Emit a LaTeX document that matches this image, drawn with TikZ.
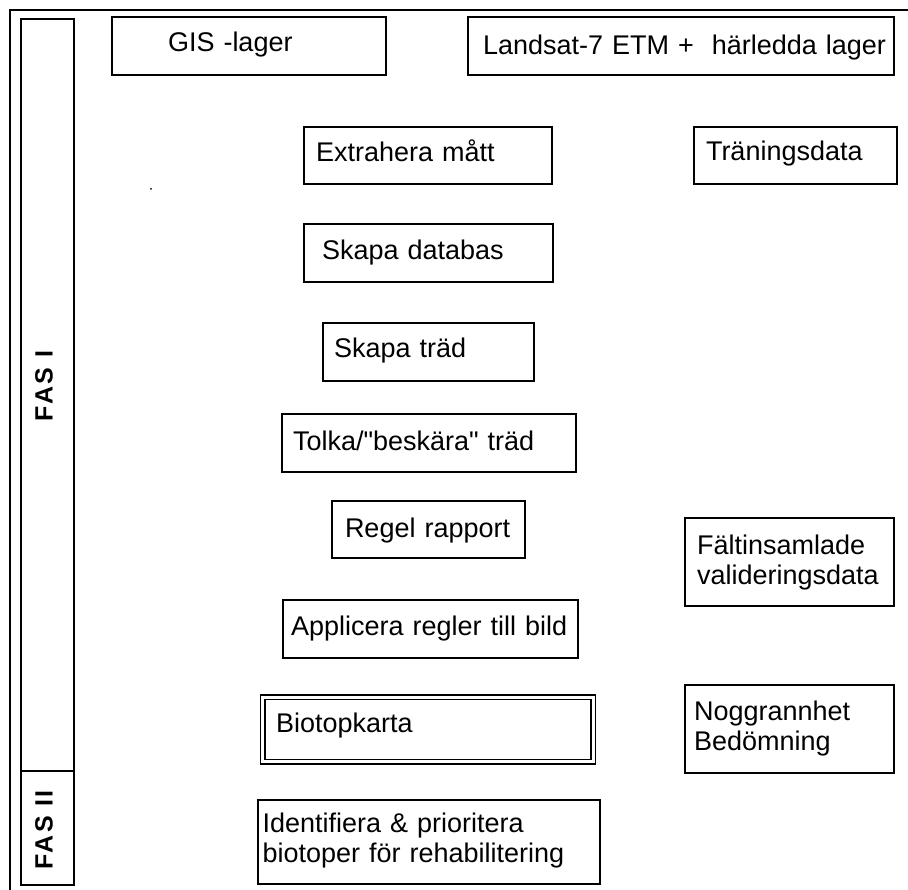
\documentclass[tikz,border=0pt]{standalone}
\usepackage{fontspec}
\setmainfont{Liberation Sans}
\newfontfamily\phasefont[LetterSpace=10]{Liberation Sans}
\usepackage{tikz}

\newcommand{\boxfont}{\fontsize{27}{30}\selectfont}
\newcommand{\indentby}[1]{\hspace*{#1pt}}

\begin{document}
\begin{tikzpicture}[x=1pt,y=-1pt,
    box/.style={draw,line width=1.6pt,anchor=north west,outer sep=0pt,inner sep=0pt,align=left,font=\boxfont},
    phase/.style={rotate=90,inner sep=0pt,font=\phasefont\bfseries\fontsize{25}{25}\selectfont}]
    \useasboundingbox (0,0) rectangle (908,890);
    \draw[line width=1.6pt] (908,10) -- (10,10) -- (10,890);
    \draw[line width=1.6pt] (21,19) rectangle (74,885);
    \draw[line width=1.6pt] (21,771) -- (74,771);
    \node[phase] (fasI) at (44,386) {FAS I};
    \node[phase] (fasII) at (44,830) {FAS II};
    \fill (151,189) circle (1pt);

    \node[box,text width=274pt,text height=35pt,text depth=23pt] (gis) at (112,17) {\indentby{56}GIS -lager};
    \node[box,text width=426pt,text height=38pt,text depth=20pt] (landsat) at (468,17) {\indentby{15}Landsat-7 ETM +\ \ härledda lager};
    \node[box,text width=248pt,text height=35pt,text depth=22pt] (extract) at (304,127) {\indentby{12}Extrahera mått};
    \node[box,text width=203pt,text height=34pt,text depth=23pt] (training) at (694,127) {\indentby{12}Träningsdata};
    \node[box,text width=249pt,text height=36pt,text depth=22pt] (database) at (304,224) {\indentby{18}Skapa databas};
    \node[box,text width=211pt,text height=35pt,text depth=23pt] (tree) at (323,323) {\indentby{11}Skapa träd};
    \node[box,text width=294pt,text height=36pt,text depth=22pt] (prune) at (282,414) {\indentby{11}Tolka/\textquotedbl beskära\textquotedbl{} träd};
    \node[box,text width=193pt,text height=36pt,text depth=21pt] (report) at (332,501) {\indentby{13}Regel rapport};
    \node[box,text width=209pt,text height=36pt,text depth=52pt] (fielddata) at (685,518) {\indentby{12}Fältinsamlade\\\indentby{12}valideringsdata};
    \node[box,text width=295pt,text height=35pt,text depth=23pt] (apply) at (283,600) {\indentby{8}Applicera regler till bild};
    \node[box,line width=1.5pt,double,double distance=3pt,text width=330.5pt,text height=35pt,text depth=29.5pt] (biomap) at (262.5,697) {\indentby{13.5}Biotopkarta};
    \node[box,text width=209pt,text height=35pt,text depth=53pt] (accuracy) at (685,685) {\indentby{9}Noggrannhet\\\indentby{9}Bedömning};
    \node[box,text width=342pt,text height=32pt,text depth=52pt] (priority) at (258,800) {\indentby{4.5}Identifiera \& prioritera\\\indentby{4.5}biotoper för rehabilitering};
\end{tikzpicture}
\end{document}
